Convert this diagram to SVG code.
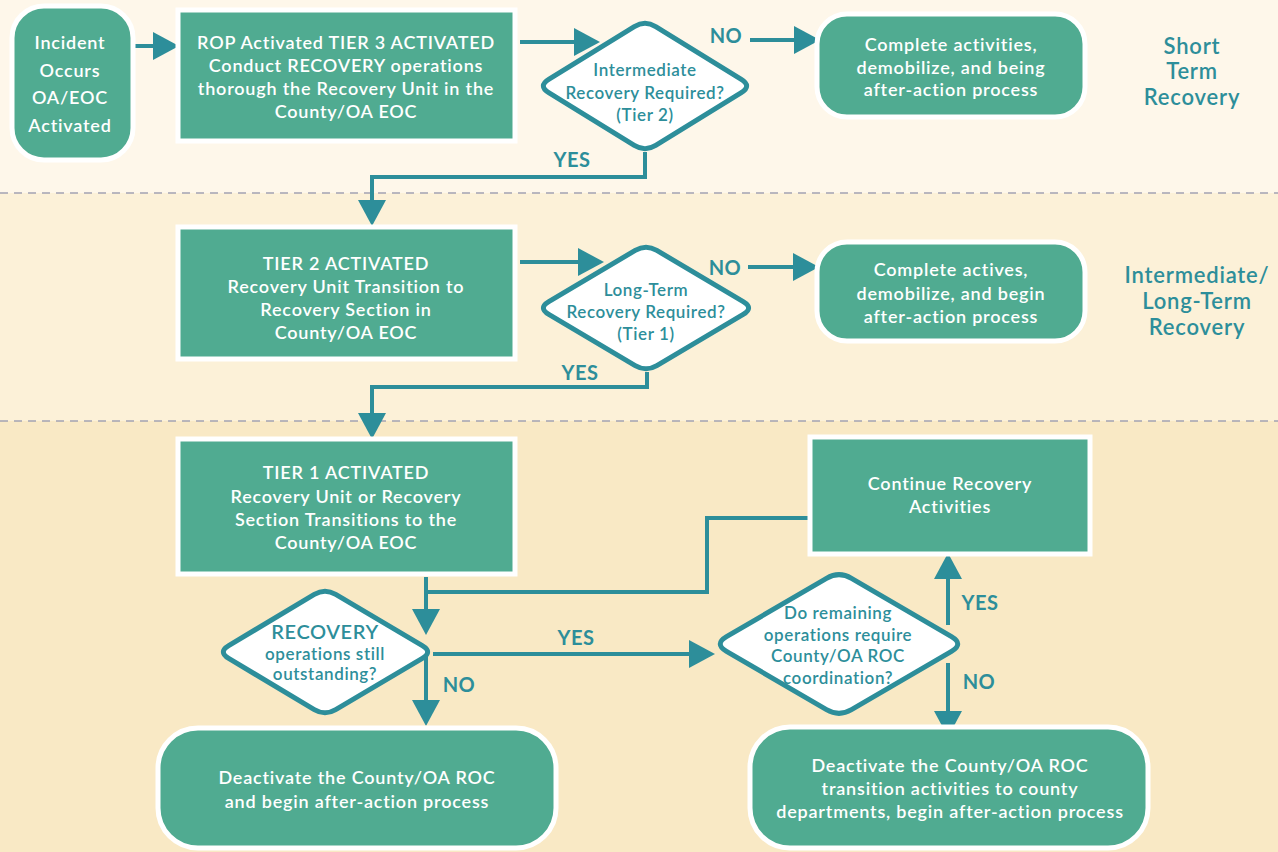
<svg xmlns="http://www.w3.org/2000/svg" width="1278" height="852" viewBox="0 0 1278 852">
<style>
.box{fill:#50ab91;stroke:#ffffff;stroke-width:5}
.dia{fill:#ffffff;stroke:#2d8e9a;stroke-width:5}
.t{font-family:Lato,"Liberation Sans",sans-serif;font-size:18px;font-weight:600;letter-spacing:0.8px;fill:#ffffff;text-anchor:middle}
.dt{font-family:Lato,"Liberation Sans",sans-serif;font-size:17px;font-weight:600;letter-spacing:0.6px;fill:#2d8e9a;text-anchor:middle}
.lb{font-family:Lato,"Liberation Sans",sans-serif;font-size:20px;font-weight:700;letter-spacing:0.5px;fill:#2d8e9a;text-anchor:middle}
.side{font-family:Lato,"Liberation Sans",sans-serif;font-size:22px;font-weight:600;letter-spacing:0.8px;fill:#2d8e9a;text-anchor:middle}
.c{fill:none;stroke:#2d8e9a;stroke-width:4;marker-end:url(#ah)}
.cn{fill:none;stroke:#2d8e9a;stroke-width:4}
.dash{stroke:#a3a3b3;stroke-width:1.5;stroke-dasharray:8 6}
</style>
<defs>
<marker id="ah" markerUnits="userSpaceOnUse" markerWidth="26" markerHeight="28" viewBox="0 -14 26 28" refX="0" refY="0" orient="auto">
<path d="M0,-14 L26,0 L0,14 Z" fill="#2d8e9a"/>
</marker>
</defs>
<rect x="0" y="0" width="1278" height="193" fill="#fef7ea"/>
<rect x="0" y="193" width="1278" height="228" fill="#fcf1d8"/>
<rect x="0" y="421" width="1278" height="431" fill="#f9e9c5"/>
<line class="dash" x1="0" y1="193" x2="1278" y2="193"/>
<line class="dash" x1="0" y1="421" x2="1278" y2="421"/>

<g id="connectors">
<path class="c" d="M133,46 H153"/>
<path class="c" d="M520,42 H574"/>
<path class="c" d="M750,40 H794"/>
<path class="c" d="M645,152 V177 H372 V200"/>
<path class="c" d="M520,262 H578"/>
<path class="c" d="M748,267 H793"/>
<path class="c" d="M647,372 V387 H372 V413"/>
<path class="c" d="M426,577 V609"/>
<path class="cn" d="M808,518 H707 V592 H426"/>
<path class="c" d="M433,654 H689"/>
<path class="c" d="M426,656 V700"/>
<path class="c" d="M948,625 V579"/>
<path class="c" d="M948,663 V711"/>
<text class="lb" x="726" y="43">NO</text>
<text class="lb" x="572" y="167">YES</text>
<text class="lb" x="725" y="275">NO</text>
<text class="lb" x="580" y="380">YES</text>
<text class="lb" x="576" y="645">YES</text>
<text class="lb" x="459" y="692">NO</text>
<text class="lb" x="980" y="610">YES</text>
<text class="lb" x="979" y="689">NO</text>
</g>

<g id="incident">
<rect class="box" x="12" y="6" width="121" height="154" rx="32"/>
<text class="t" x="70" y="49">Incident</text>
<text class="t" x="70" y="77">Occurs</text>
<text class="t" x="70" y="104">OA/EOC</text>
<text class="t" x="70" y="132">Activated</text>
</g>

<g id="tier3">
<rect class="box" x="178" y="10" width="337" height="131"/>
<text class="t" x="346" y="49">ROP Activated TIER 3 ACTIVATED</text>
<text class="t" x="346" y="72">Conduct RECOVERY operations</text>
<text class="t" x="346" y="95">thorough the Recovery Unit in the</text>
<text class="t" x="346" y="118">County/OA EOC</text>
</g>

<g id="dec-tier2">
<path class="dia" d="M548.7,79.4 L634.3,26.6 Q645,20 655.7,26.6 L741.3,79.4 Q752,86 741.3,92.6 L655.7,145.4 Q645,152 634.3,145.4 L548.7,92.6 Q538,86 548.7,79.4 Z"/>
<text class="dt" x="645" y="76">Intermediate</text>
<text class="dt" x="645" y="99">Recovery Required?</text>
<text class="dt" x="645" y="121">(Tier 2)</text>
</g>

<g id="complete1">
<rect class="box" x="817" y="14" width="268" height="103" rx="30"/>
<text class="t" x="951" y="51">Complete activities,</text>
<text class="t" x="951" y="74">demobilize, and being</text>
<text class="t" x="951" y="96">after-action process</text>
</g>

<g id="label-short">
<text class="side" x="1192" y="54">Short</text>
<text class="side" x="1192" y="79">Term</text>
<text class="side" x="1192" y="105">Recovery</text>
</g>

<g id="tier2">
<rect class="box" x="178" y="227" width="337" height="132"/>
<text class="t" x="346" y="270">TIER 2 ACTIVATED</text>
<text class="t" x="346" y="293">Recovery Unit Transition to</text>
<text class="t" x="346" y="316">Recovery Section in</text>
<text class="t" x="346" y="339">County/OA EOC</text>
</g>

<g id="dec-tier1">
<path class="dia" d="M548.8,301.6 L635.2,250.4 Q646,244 656.8,250.4 L743.2,301.6 Q754,308 743.2,314.4 L656.8,365.6 Q646,372 635.2,365.6 L548.8,314.4 Q538,308 548.8,301.6 Z"/>
<text class="dt" x="646" y="296">Long-Term</text>
<text class="dt" x="646" y="318">Recovery Required?</text>
<text class="dt" x="646" y="340">(Tier 1)</text>
</g>

<g id="complete2">
<rect class="box" x="817" y="242" width="268" height="99" rx="30"/>
<text class="t" x="951" y="276">Complete actives,</text>
<text class="t" x="951" y="300">demobilize, and begin</text>
<text class="t" x="951" y="323">after-action process</text>
</g>

<g id="label-intermediate">
<text class="side" x="1197" y="283">Intermediate/</text>
<text class="side" x="1197" y="309">Long-Term</text>
<text class="side" x="1197" y="335">Recovery</text>
</g>

<g id="tier1">
<rect class="box" x="178" y="439" width="337" height="135"/>
<text class="t" x="346" y="479">TIER 1 ACTIVATED</text>
<text class="t" x="346" y="503">Recovery Unit or Recovery</text>
<text class="t" x="346" y="526">Section Transitions to the</text>
<text class="t" x="346" y="549">County/OA EOC</text>
</g>

<g id="continue">
<rect class="box" x="810" y="437" width="280" height="117"/>
<text class="t" x="950" y="490">Continue Recovery</text>
<text class="t" x="950" y="513">Activities</text>
</g>

<g id="dec-outstanding">
<path class="dia" d="M228.7,645.6 L314.3,594.4 Q325,588 335.7,594.4 L422.3,645.6 Q433,652 422.3,658.4 L335.7,709.6 Q325,716 314.3,709.6 L228.7,658.4 Q218,652 228.7,645.6 Z"/>
<text class="dt" x="325" y="639" style="font-size:20px">RECOVERY</text>
<text class="dt" x="325" y="660">operations still</text>
<text class="dt" x="325" y="680">outstanding?</text>
</g>

<g id="dec-roc">
<path class="dia" d="M726.5,636.7 L826.5,578.3 Q839,571 851.5,578.3 L951.5,636.7 Q964,644 951.5,651.3 L851.5,709.7 Q839,717 826.5,709.7 L726.5,651.3 Q714,644 726.5,636.7 Z"/>
<text class="dt" x="838" y="619">Do remaining</text>
<text class="dt" x="838" y="641">operations require</text>
<text class="dt" x="838" y="662">County/OA ROC</text>
<text class="dt" x="838" y="684">coordination?</text>
</g>

<g id="deactivate1">
<rect class="box" x="158" y="728" width="398" height="120" rx="40"/>
<text class="t" x="357" y="784">Deactivate the County/OA ROC</text>
<text class="t" x="357" y="808">and begin after-action process</text>
</g>

<g id="deactivate2">
<rect class="box" x="750" y="727" width="398" height="121" rx="40"/>
<text class="t" x="950" y="772">Deactivate the County/OA ROC</text>
<text class="t" x="950" y="795">transition activities to county</text>
<text class="t" x="950" y="818">departments, begin after-action process</text>
</g>
</svg>
